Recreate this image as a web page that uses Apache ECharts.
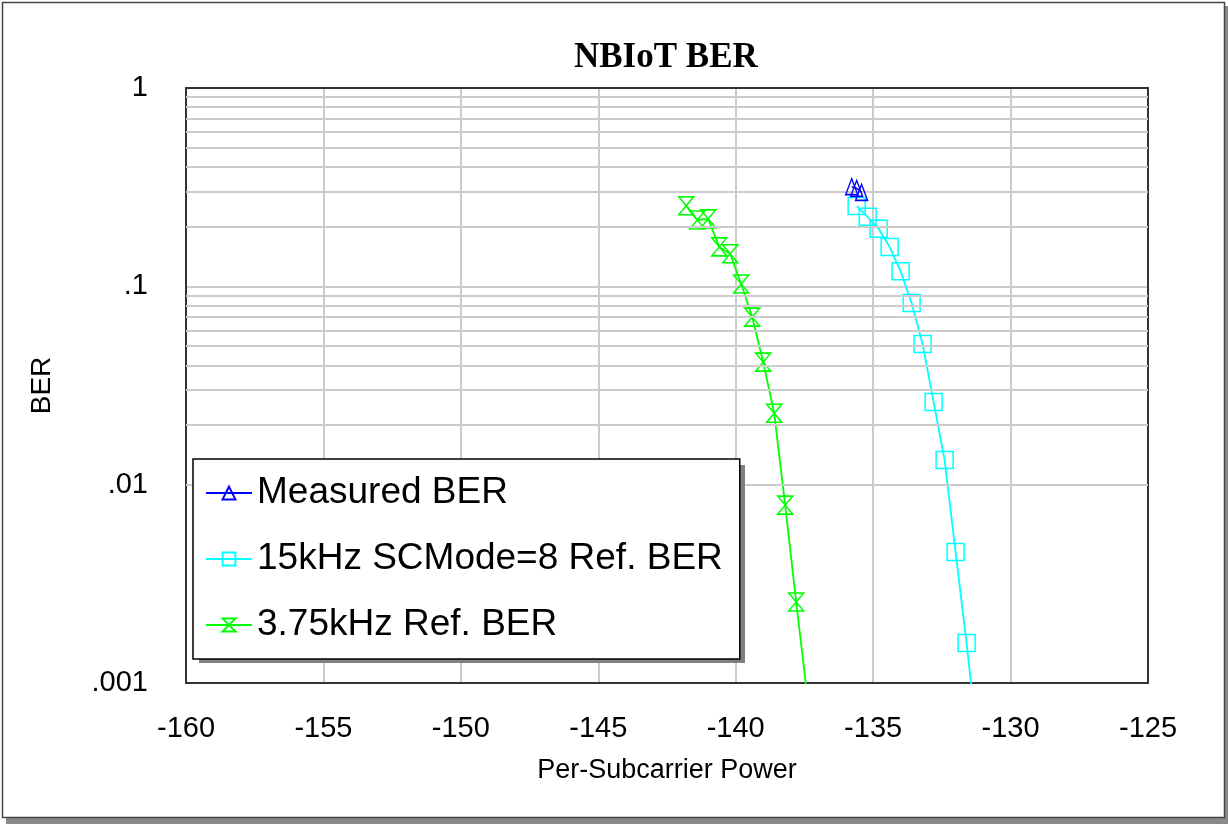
<!DOCTYPE html>
<html>
<head>
<meta charset="utf-8">
<script src="https://cdn.jsdelivr.net/npm/echarts@6/dist/echarts.min.js"></script>
<style>
html,body{margin:0;padding:0;background:#fff;}
#chart{width:1228px;height:824px;}
</style>
</head>
<body>
<div id="chart"></div>
<script>
// ---- data ----
const titleText = 'NBIoT BER';
const xName = 'Per-Subcarrier Power';
const yName = 'BER';
const xTicks = [-160, -155, -150, -145, -140, -135, -130, -125];
const yTickLabels = ['.001', '.01', '.1', '1'];
const yMinorGrid = [0.002,0.003,0.004,0.005,0.006,0.007,0.008,0.009,
                    0.02,0.03,0.04,0.05,0.06,0.07,0.08,0.09,
                    0.2,0.3,0.4,0.5,0.6,0.7,0.8,0.9];

const measuredX = [-135.78, -135.60, -135.42];
const measuredY = [0.318, 0.312, 0.298];

const ref15X = [-135.6, -135.2, -134.8, -134.4, -134.0, -133.6, -133.2, -132.8, -132.4, -132.0, -131.6, -131.2];
const ref15Y = [0.254, 0.224, 0.195, 0.158, 0.119, 0.0824, 0.0512, 0.0261, 0.0133, 0.00457, 0.00159, 0.0005];

const ref375X = [-141.8, -141.4, -141.0, -140.6, -140.2, -139.8, -139.4, -139.0, -138.6, -138.2, -137.8, -137.4];
const ref375Y = [0.255, 0.216, 0.219, 0.158, 0.146, 0.1027, 0.070, 0.0415, 0.0229, 0.00789, 0.00256, 0.00087];

const seriesNames = ['Measured BER', '15kHz SCMode=8 Ref. BER', '3.75kHz Ref. BER'];

function zip(xs, ys){ return xs.map((x,i)=>[x, ys[i]]); }

const chart = echarts.init(document.getElementById('chart'));
const font = 'Liberation Sans, Arial, sans-serif';
const gridColor = '#cccccc';
const frameColor = '#333333';

const frameAxis = {
  axisLine: {show: true, lineStyle: {color: frameColor, width: 2}},
  axisTick: {show: false}, axisLabel: {show: false}, splitLine: {show: false}, z: 3
};

chart.setOption({
  backgroundColor: '#ffffff',
  animation: false,
  title: {
    text: titleText,
    left: 574, top: 40, padding: 0,
    textStyle: {fontFamily: 'Liberation Serif, Times New Roman, serif', fontWeight: 'bold', fontSize: 35, color: '#000'}
  },
  graphic: {
    elements: [
      {type: 'rect', z: -100, shape: {x: 1225, y: 6, width: 3, height: 818}, style: {fill: '#8a8a8a'}, silent: true},
      {type: 'rect', z: -100, shape: {x: 6, y: 818, width: 1222, height: 6}, style: {fill: '#8a8a8a'}, silent: true},
      {type: 'rect', z: -100, shape: {x: 2.5, y: 2.5, width: 1222, height: 815}, style: {fill: 'none', stroke: '#444', lineWidth: 1.5}, silent: true},
      // legend drop shadow
      {type: 'rect', z: 15, shape: {x: 199, y: 465, width: 546, height: 198}, style: {fill: '#808080'}, silent: true}
    ]
  },
  grid: {
    left: 186, top: 88, right: 80, bottom: 141
  },
  legend: {
    data: seriesNames,
    z: 20,
    orient: 'vertical',
    left: 193, top: 459,
    padding: [13, 17, 13, 12],
    itemWidth: 46, itemHeight: 16, itemGap: 24,
    backgroundColor: '#fff', borderColor: '#000', borderWidth: 1.5, borderRadius: 0,
    textStyle: {fontFamily: font, fontSize: 37, lineHeight: 42, color: '#000'},
    selectedMode: false
  },
  xAxis: [{
    type: 'value', min: -160, max: -125, interval: 5, z: 2,
    name: xName, nameLocation: 'middle', nameGap: 74,
    nameTextStyle: {fontFamily: font, fontSize: 27, color: '#000'},
    axisLine: {show: true, lineStyle: {color: frameColor, width: 2}}, axisTick: {show: false},
    axisLabel: {fontFamily: font, fontSize: 29, color: '#000', margin: 31,
      formatter: v => String(xTicks.find(t => Math.abs(t - v) < 1e-6) ?? v)},
    splitLine: {show: true, lineStyle: {color: gridColor, width: 2}}
  }, Object.assign({type: 'value', position: 'top', min: -160, max: -125, interval: 5}, frameAxis)],
  yAxis: [{
    type: 'log', logBase: 10, min: 0.001, max: 1, z: 2,
    name: yName, nameLocation: 'middle', nameGap: 130, nameRotate: 90,
    nameTextStyle: {fontFamily: font, fontSize: 28, color: '#000'},
    axisLine: {show: true, lineStyle: {color: frameColor, width: 2}}, axisTick: {show: false},
    axisLabel: {fontFamily: font, fontSize: 29, color: '#000', margin: 38, padding: [4, 0, 0, 0],
      formatter: v => yTickLabels[Math.round(Math.log10(v)) + 3]},
    splitLine: {show: true, lineStyle: {color: gridColor, width: 2}}
  }, Object.assign({type: 'log', logBase: 10, position: 'right', min: 0.001, max: 1}, frameAxis)],
  series: [
    {
      name: '_grid', type: 'line', data: [], z: 1, silent: true,
      markLine: {
        silent: true, symbol: 'none', animation: false,
        label: {show: false},
        lineStyle: {color: gridColor, type: 'solid', width: 2},
        emphasis: {disabled: true},
        data: yMinorGrid.map(v => ({yAxis: v}))
      }
    },
    {
      name: seriesNames[0], type: 'line', z: 5,
      data: zip(measuredX, measuredY),
      symbol: 'triangle', symbolSize: [12, 16],
      lineStyle: {color: '#0000ff', width: 1.5},
      itemStyle: {color: 'rgba(255,255,255,0)', borderColor: '#0000ff', borderWidth: 1.5}
    },
    {
      name: seriesNames[1], type: 'line', z: 4,
      data: zip(ref15X, ref15Y),
      symbol: 'rect', symbolSize: 17,
      lineStyle: {color: '#00ffff', width: 1.8},
      itemStyle: {color: 'rgba(255,255,255,0)', borderColor: '#00ffff', borderWidth: 1.5}
    },
    {
      name: seriesNames[2], type: 'line', z: 4,
      data: zip(ref375X, ref375Y),
      symbol: 'path://M0,0L10,0L0,12L10,12Z', symbolSize: [15, 18],
      lineStyle: {color: '#00ff00', width: 1.8},
      itemStyle: {color: 'rgba(255,255,255,0)', borderColor: '#00ff00', borderWidth: 1.5}
    }
  ]
});
</script>
</body>
</html>
